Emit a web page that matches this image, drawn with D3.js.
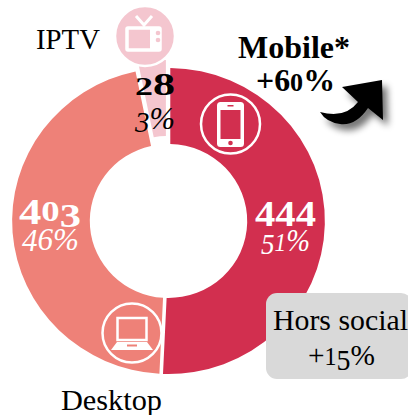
<!DOCTYPE html>
<html>
<head>
<meta charset="utf-8">
<script src="https://cdn.jsdelivr.net/npm/d3@7"></script>
<style>
    html, body { margin: 0; padding: 0; background: #fff; overflow: hidden; }
    text { font-family: "Liberation Serif", serif; }
</style>
</head>
<body>
<div id="chart"></div>
<script>
// data
const categories = ["Mobile", "Desktop", "IPTV"];
const counts = [444, 403, 28];
const shares = ["51%", "46%", "3%"];
const colors = ["#d22f4f", "#ee8178", "#f4c6cf"];
const growthLabels = ["Mobile*", "+60%", "Hors social", "+15%"];

const width = 408, height = 415;
const cx = 168.5, cy = 221;

const svg = d3.select("#chart").append("svg")
    .attr("width", width)
    .attr("height", height);

// soft shadow under the arrow
const blur = svg.append("defs").append("filter")
    .attr("id", "shadow")
    .attr("x", "-30%").attr("y", "-30%")
    .attr("width", "170%").attr("height", "170%");
blur.append("feGaussianBlur").attr("stdDeviation", 3.5);

// donut
const pie = d3.pie().sort(null).value(d => d);
const arc = d3.arc()
    .innerRadius(77)
    .outerRadius(153)
    .padRadius(153)
    .padAngle(3.5 / 153);

const donut = svg.append("g")
    .attr("transform", "translate(" + cx + "," + cy + ") scale(1.022,1)");

donut.selectAll("path")
    .data(pie(counts))
    .enter()
    .append("path")
    .attr("d", arc)
    .attr("fill", (d, i) => colors[i])
    // IPTV slice is pulled out a little
    .attr("transform", (d, i) => i === 2 ? "translate(-0.8,-8)" : null);

// old style figures: Liberation has none so the digits get resized and shifted
function oldStyle(sel, str, italic) {
    const fs = parseFloat(sel.attr("font-size"));
    let shift = 0;
    str.split("").forEach(c => {
        let size = 1, down = 0;
        if ("012".includes(c)) size = 0.82;
        if ("357".includes(c)) { size = 0.95; down = italic ? 0.1 : 0.17; }
        if (c === "4") down = italic ? 0.03 : 0.08;
        const next = down * fs;
        sel.append("tspan")
            .attr("font-size", fs * size)
            .attr("dy", next - shift)
            .text(c);
        shift = next;
    });
}

function label(str, x, y, size, opts) {
    opts = opts || {};
    const t = svg.append("text")
        .attr("x", x)
        .attr("y", y)
        .attr("font-size", size)
        .attr("font-weight", opts.bold ? "bold" : "normal")
        .attr("font-style", opts.italic ? "italic" : "normal")
        .attr("fill", opts.fill || "#000");
    oldStyle(t, str, opts.italic);
    if (opts.len) t.attr("textLength", opts.len).attr("lengthAdjust", "spacingAndGlyphs");
    return t;
}

// hors social box
svg.append("rect")
    .attr("x", 266).attr("y", 293)
    .attr("width", 146).attr("height", 86)
    .attr("rx", 11)
    .attr("fill", "#d9d9d9");

// arrow
const arrow = "M320,112 Q345,119 358,102 L342,87 L382,80 L383,120 L368,108 Q356,126 340,124 Q326,122 320,112 Z";
svg.append("path").attr("d", arrow).attr("fill", "#000").attr("opacity", 0.55)
    .attr("transform", "translate(5,6)").attr("filter", "url(#shadow)");
svg.append("path").attr("d", arrow).attr("fill", "#000");

// IPTV icon
const tv = svg.append("g").attr("transform", "translate(145,36)");
tv.append("circle").attr("r", 30).attr("fill", colors[2]).attr("stroke", "#fff").attr("stroke-width", 2.5);
tv.append("rect").attr("x", -18).attr("y", -8).attr("width", 33).attr("height", 22)
    .attr("fill", "none").attr("stroke", "#fff").attr("stroke-width", 3.5).attr("rx", 1);
tv.append("rect").attr("x", 5).attr("y", -8).attr("width", 10).attr("height", 22).attr("fill", "#fff");
tv.append("circle").attr("cx", 13).attr("cy", -3).attr("r", 2.3).attr("fill", colors[2]);
tv.append("circle").attr("cx", 13).attr("cy", 4).attr("r", 2.3).attr("fill", colors[2]);
tv.append("path").attr("d", "M-9,-20 L-1,-11 L7,-20")
    .attr("fill", "none").attr("stroke", "#fff").attr("stroke-width", 3);

// mobile icon
const phone = svg.append("g").attr("transform", "translate(230.5,124)");
phone.append("circle").attr("r", 29.5).attr("fill", "none").attr("stroke", "#fff").attr("stroke-width", 2.5);
phone.append("rect").attr("x", -13.5).attr("y", -22).attr("width", 27).attr("height", 45).attr("rx", 3.5).attr("fill", "#fff");
phone.append("rect").attr("x", -10).attr("y", -14).attr("width", 20).attr("height", 29).attr("fill", colors[0]);
phone.append("circle").attr("cx", 0).attr("cy", 19).attr("r", 2.3).attr("fill", colors[0]);
phone.append("rect").attr("x", -3).attr("y", -19).attr("width", 6).attr("height", 1.5).attr("fill", colors[0]);

// desktop icon
const laptop = svg.append("g").attr("transform", "translate(132,333)");
laptop.append("circle").attr("r", 29.5).attr("fill", "none").attr("stroke", "#fff").attr("stroke-width", 2.5);
laptop.append("rect").attr("x", -14.5).attr("y", -15).attr("width", 29).attr("height", 22)
    .attr("fill", "none").attr("stroke", "#fff").attr("stroke-width", 2.5);
laptop.append("path").attr("d", "M-15,9 L15,9 L21,17 L-21,17 Z").attr("fill", "#fff");
laptop.append("rect").attr("x", -5).attr("y", 11.5).attr("width", 10).attr("height", 2).attr("fill", colors[1]);

// values
label(String(counts[0]), 255, 223, 36, { bold: true, fill: "#fff", len: 61 });
label(shares[0], 261, 251, 31, { italic: true, fill: "#fff", len: 49 });
label(String(counts[1]), 19, 221, 36, { bold: true, fill: "#fff", len: 62 });
label(shares[1], 22, 250, 31, { italic: true, fill: "#fff", len: 57 });
label(String(counts[2]), 135, 95, 31, { bold: true, len: 40 });
label(shares[2], 135, 129, 31, { italic: true, len: 40 });

// names
label(categories[2], 36, 49, 29, { len: 64 });
label(categories[1], 61, 410, 30, { len: 101 });
label(growthLabels[0], 238, 58, 31, { bold: true, len: 112 });
label(growthLabels[1], 256, 91, 31, { bold: true, len: 79 });
label(growthLabels[2], 273, 330, 30, { len: 135 });
label(growthLabels[3], 308, 365, 30, { len: 67 });
</script>
</body>
</html>
